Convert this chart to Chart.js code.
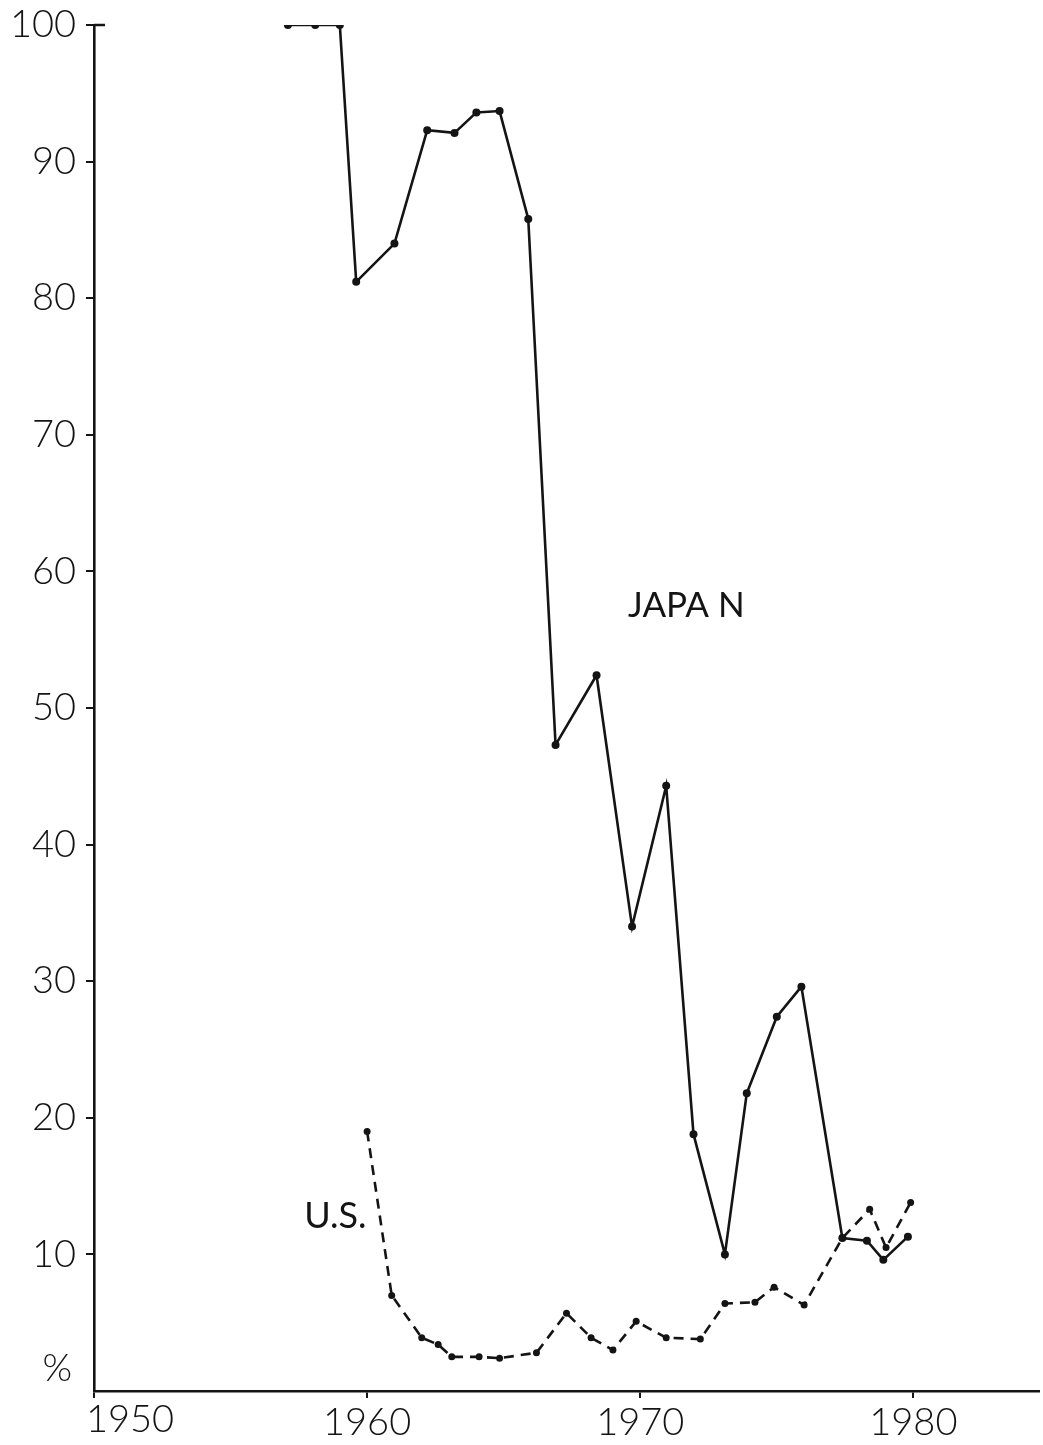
<!DOCTYPE html>
<html>
<head>
<meta charset="utf-8">
<script src="https://cdn.jsdelivr.net/npm/chart.js@4/dist/chart.umd.min.js"></script>
<style>
  html, body { margin: 0; padding: 0; background: #fff; }
  #wrap { width: 1043px; height: 1445px; }
</style>
</head>
<body>
<div id="wrap"><canvas id="shareChart"></canvas></div>
<script>
// ============================
// Data
// ============================
const japanYears = [1957.1, 1958.1, 1959.0, 1959.6, 1961.0, 1962.2, 1963.2, 1964.0, 1964.85, 1965.9,
                    1966.9, 1968.4, 1969.7, 1970.95, 1971.95, 1973.1, 1973.9, 1975.0, 1975.9,
                    1977.4, 1978.3, 1978.9, 1979.8];
const japanValues = [100, 100, 100, 81.2, 84.0, 92.3, 92.1, 93.6, 93.7, 85.8,
                     47.3, 52.4, 34.0, 44.3, 18.8, 10.0, 21.8, 27.4, 29.6,
                     11.2, 11.0, 9.6, 11.3];

const usYears = [1960.0, 1960.9, 1962.0, 1962.6, 1963.1, 1964.1, 1964.85, 1966.2, 1967.3, 1968.2,
                 1969.0, 1969.85, 1970.95, 1972.2, 1973.1, 1974.2, 1974.9, 1976.0,
                 1977.4, 1978.4, 1979.0, 1979.9];
const usValues = [19.0, 7.0, 3.9, 3.4, 2.5, 2.5, 2.4, 2.8, 5.7, 3.9,
                  3.0, 5.1, 3.9, 3.8, 6.4, 6.5, 7.6, 6.3,
                  11.2, 13.3, 10.5, 13.8];

const xTickYears = [1950, 1960, 1970, 1980];
const yTickValues = [10, 20, 30, 40, 50, 60, 70, 80, 90, 100];

(function () {

    const INK = "#141414";
    const FONT = '"Lato", "Liberation Sans", sans-serif';

    function toPoints(xs, ys) {
        return xs.map((x, i) => ({ x: x, y: ys[i] }));
    }

    // ============================
    // Labels drawn on top (JAPAN / U.S. / % / 1950)
    // ============================
    const notesPlugin = {
        id: "notes",
        afterDraw(chart) {
            const ctx = chart.ctx;
            const xs = chart.scales.x;
            const ys = chart.scales.y;
            ctx.save();
            ctx.fillStyle = INK;
            ctx.strokeStyle = INK;

            // small cap to the right of the 100 tick
            ctx.lineWidth = 2.5;
            ctx.beginPath();
            ctx.moveTo(xs.left, ys.getPixelForValue(100));
            ctx.lineTo(xs.left + 11, ys.getPixelForValue(100));
            ctx.stroke();

            ctx.font = "300 38px " + FONT;
            ctx.textBaseline = "middle";
            ctx.textAlign = "right";
            ctx.fillText("%", xs.left - 22, ys.getPixelForValue(0) - 22);

            ctx.textAlign = "center";
            ctx.textBaseline = "top";
            ctx.fillText("1950", xs.getPixelForValue(1950) + 36, ys.bottom + 10);

            ctx.font = "400 35px " + FONT;
            ctx.textBaseline = "middle";
            ctx.textAlign = "left";
            ctx.fillText("JAPA N", xs.getPixelForValue(1969.55), ys.getPixelForValue(57.5));
            ctx.font = "400 36px " + FONT;
            ctx.fillText("U.S.", xs.getPixelForValue(1957.7), ys.getPixelForValue(12.8));
            ctx.restore();
        }
    };

    // no extra room for half-labels at the ends, layout padding decides
    function noEndPadding(s) {
        s.paddingTop = 0; s.paddingBottom = 0;
        s.paddingLeft = 0; s.paddingRight = 0;
    }

    // ============================
    // Chart
    // ============================
    const canvas = document.getElementById("shareChart");
    new Chart(canvas.getContext("2d"), {
        type: "line",
        data: {
            datasets: [
                {
                    label: "Japan",
                    data: toPoints(japanYears, japanValues),
                    borderColor: INK, backgroundColor: INK,
                    borderWidth: 2.6, pointRadius: 4, pointBorderWidth: 0,
                    tension: 0
                },
                {
                    label: "U.S.",
                    data: toPoints(usYears, usValues),
                    borderColor: INK, backgroundColor: INK,
                    borderWidth: 2.6, borderDash: [10, 7],
                    pointRadius: 3.5, pointBorderWidth: 0,
                    tension: 0
                }
            ]
        },
        options: {
            responsive: true,
            maintainAspectRatio: false,
            animation: false,
            layout: { padding: { top: 25, right: 0, left: 0, bottom: 0 } },
            plugins: { legend: { display: false }, tooltip: { enabled: false } },
            scales: {
                x: {
                    type: "linear",
                    min: 1950, max: 1984.6,
                    afterBuildTicks(s) { s.ticks = xTickYears.map(v => ({ value: v })); },
                    afterFit(s) { s.height = 54; noEndPadding(s); },
                    border: { display: true, color: INK, width: 2.6 },
                    grid: { drawOnChartArea: false, drawTicks: true, tickLength: 7, color: INK, lineWidth: 2 },
                    ticks: {
                        color: INK, padding: 2,
                        font: { family: FONT, size: 38, weight: "300" },
                        callback: v => (v === 1950 ? "" : String(v))
                    }
                },
                y: {
                    type: "linear",
                    min: 0, max: 100,
                    afterBuildTicks(s) { s.ticks = yTickValues.map(v => ({ value: v })); },
                    afterFit(s) { s.width = 94; noEndPadding(s); },
                    border: { display: true, color: INK, width: 2.6 },
                    grid: { drawOnChartArea: false, drawTicks: true, tickLength: 8, color: INK, lineWidth: 2 },
                    ticks: {
                        color: INK, padding: 10,
                        font: { family: FONT, size: 38, weight: "300" },
                        callback: v => String(v)
                    }
                }
            }
        },
        plugins: [notesPlugin]
    });

})();
</script>
</body>
</html>
